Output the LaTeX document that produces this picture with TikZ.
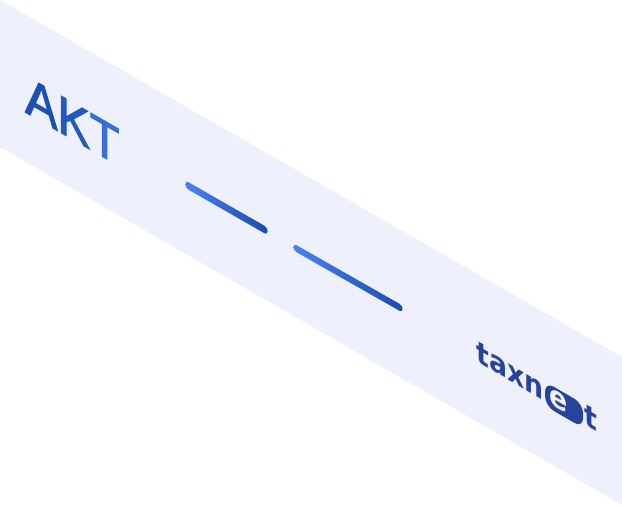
\documentclass[tikz,border=0pt]{standalone}
\usepackage{fontspec}
\setmainfont{Liberation Sans}
\newfontfamily\logofont{DejaVu Sans}
\newfontfamily\aktfont[FakeBold=2.2]{Liberation Sans}
\definecolor{bandc}{HTML}{EEF0FE}
\definecolor{logoc}{HTML}{26449C}
\definecolor{barlight}{HTML}{4A82F0}
\definecolor{bardark}{HTML}{194CAE}
\definecolor{aktA}{HTML}{1C50B2}
\definecolor{aktK}{HTML}{2259BE}
\definecolor{aktT}{HTML}{3470D8}
\tikzset{
  band/.style={fill=bandc,draw=none},
  barshape/.style={left color=barlight,right color=bardark,rounded corners=3.4pt,draw=none},
  logotext/.style={transform shape,inner sep=0pt,anchor=base west,text=logoc,font=\logofont\bfseries\fontsize{26}{26}\selectfont},
  akttext/.style={transform shape,inner sep=0pt,anchor=base west,font=\aktfont\fontsize{50}{50}\selectfont}
}
\begin{document}
\begin{tikzpicture}[x=1pt,y=-1pt]
\useasboundingbox (0,0) rectangle (622,505);
\fill[band] (0,0) -- (622,357) -- (622,505) -- (0,147) -- cycle;
\begin{scope}[cm={0.97,-0.558,0,1.07,(25,112)}]
  \node[akttext] (akt) at (0,0) {\textcolor{aktA}{A}\textcolor{aktK}{K}\textcolor{aktT}{T}};
\end{scope}
\shade[barshape] (185.5,180.5) -- (267.5,227.5) -- (267.5,235) -- (185.5,188) -- cycle;
\shade[barshape] (293.5,243.5) -- (402.5,305.5) -- (402.5,312.5) -- (293.5,250.5) -- cycle;
\begin{scope}[cm={1.03,-0.6,0,1.15,(476,361)}]
  \fill[logoc,rounded corners=10pt] (67,-17) rectangle (104,4);
  \node[logotext] (taxn) at (0,0) {taxn};
  \node[logotext,text=bandc] (e) at (71,0) {e};
  \node[logotext] (t) at (105,0) {t};
\end{scope}
\end{tikzpicture}
\end{document}
